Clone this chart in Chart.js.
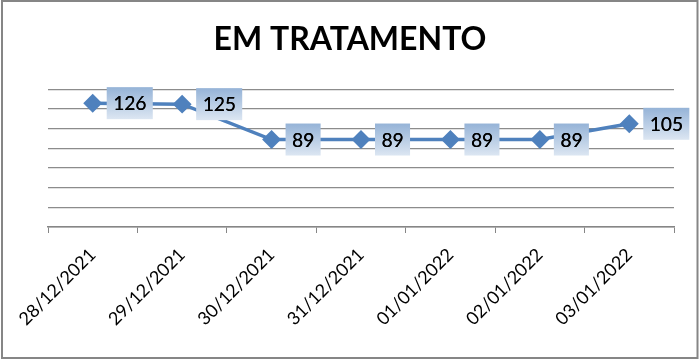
<!DOCTYPE html>
<html>
<head>
<meta charset="utf-8">
<script src="https://cdn.jsdelivr.net/npm/chart.js@4/dist/chart.umd.min.js"></script>
<style>
  html, body { margin: 0; padding: 0; background: #fff; }
  #wrap { width: 700px; height: 361px; }
</style>
</head>
<body>
<div id="wrap"><canvas id="chart" width="700" height="361"></canvas></div>
<script>
const dates = ['28/12/2021', '29/12/2021', '30/12/2021', '31/12/2021', '01/01/2022', '02/01/2022', '03/01/2022'];
const emTratamento = [126, 125, 89, 89, 89, 89, 105];
const yMin = 0;
const yMax = 140;
const yStep = 20;

// boxed value labels to the right of each point
const valueBoxes = {
    id: 'valueBoxes',
    afterDraw(chart) {
        const ctx = chart.ctx;
        const meta = chart.getDatasetMeta(0);
        ctx.save();
        ctx.font = '19px Lato';
        ctx.textBaseline = 'middle';
        ctx.textAlign = 'center';
        meta.data.forEach((pt, i) => {
            const text = String(chart.data.datasets[0].data[i]);
            const w = ctx.measureText(text).width + 13;
            const h = 32;
            const x = pt.x + 14;
            const y = pt.y - h / 2;
            const grad = ctx.createLinearGradient(0, y, 0, y + h);
            grad.addColorStop(0, '#95b3d7');
            grad.addColorStop(1, '#dce6f2');
            ctx.fillStyle = grad;
            ctx.fillRect(x, y, w, h);
            ctx.fillStyle = '#000';
            ctx.fillText(text, x + w / 2, pt.y + 1);
            ctx.fillText(text, x + w / 2 + 0.3, pt.y + 1);
        });
        ctx.restore();
    }
};

const frame = {
    id: 'frame',
    afterDraw(chart) {
        const ctx = chart.ctx;
        ctx.save();
        ctx.strokeStyle = '#868686';
        ctx.lineWidth = 2;
        ctx.strokeRect(2, 1, 695.5, 357);
        ctx.restore();
    }
};

new Chart(document.getElementById('chart').getContext('2d'), {
    type: 'line',
    data: {
        labels: dates,
        datasets: [{
            label: 'EM TRATAMENTO',
            data: emTratamento,
            borderColor: '#4f81bd',
            backgroundColor: '#4f81bd',
            borderWidth: 3.5,
            pointStyle: 'rectRot',
            pointRadius: 7,
            pointHoverRadius: 7,
            tension: 0
        }]
    },
    options: {
        responsive: false,
        animation: false,
        layout: { padding: { left: 26, right: 26, top: 0, bottom: 0 } },
        plugins: {
            legend: { display: false },
            tooltip: { enabled: false },
            title: {
                display: true,
                text: 'EM TRATAMENTO',
                color: '#000',
                font: { family: 'Lato', size: 32, weight: 'bold' },
                padding: { top: 20, bottom: 31 }
            }
        },
        scales: {
            x: {
                offset: true,
                grid: {
                    offset: true,
                    drawOnChartArea: false,
                    drawTicks: true,
                    tickLength: 6,
                    color: '#868686'
                },
                border: { color: '#868686', width: 1.5 },
                ticks: {
                    color: '#000',
                    font: { family: 'Lato', size: 18 },
                    minRotation: 45,
                    maxRotation: 45,
                    padding: 11,
                    autoSkip: false
                },
                afterFit(scale) { scale.height = 134; }
            },
            y: {
                min: yMin,
                max: yMax,
                ticks: { display: false, stepSize: yStep },
                grid: { color: '#8c8c8c', lineWidth: 1.2, drawTicks: false },
                border: { display: false },
                afterFit(scale) { scale.width = 22; }
            }
        }
    },
    plugins: [valueBoxes, frame]
});
</script>
</body>
</html>
